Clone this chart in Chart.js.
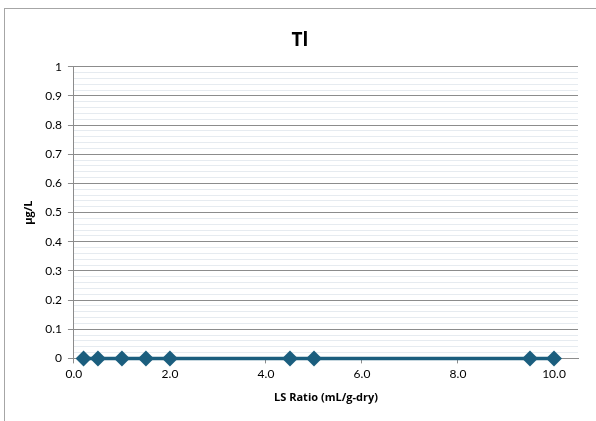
<!DOCTYPE html>
<html>
<head>
<meta charset="utf-8">
<script src="https://cdn.jsdelivr.net/npm/chart.js@4/dist/chart.umd.min.js"></script>
<style>
html,body{margin:0;padding:0;background:#fff;overflow:hidden;}
#wrap{position:absolute;left:0;top:0;width:596px;height:421px;}
#frame{position:absolute;left:4px;top:8px;width:620px;height:440px;border:1.5px solid #a6a6a6;box-sizing:border-box;pointer-events:none;}
</style>
</head>
<body>
<div id="wrap"><canvas id="c" width="596" height="421"></canvas></div>
<div id="frame"></div>
<script>
const chartTitle = "Tl";
const xAxisTitle = "LS Ratio (mL/g-dry)";
const yAxisTitle = "µg/L";
const lsRatio = [0.2, 0.5, 1.0, 1.5, 2.0, 4.5, 5.0, 9.5, 10.0];
const tlValues = [0, 0, 0, 0, 0, 0, 0, 0, 0];
const xTicks = [0, 2, 4, 6, 8, 10];

const FONT = "Lato, 'Open Sans', 'Liberation Sans', sans-serif";
const BOLD_FONT = "'Open Sans', 'Liberation Sans', sans-serif";
const points = lsRatio.map((x, i) => ({x: x, y: tlValues[i]}));

function isMajor(v){ return Math.abs(Math.round(v*10) - v*10) < 1e-6; }

new Chart(document.getElementById('c'), {
  type: 'scatter',
  data: {
    datasets: [{
      data: points,
      showLine: true,
      borderColor: '#1b5e7e',
      backgroundColor: '#1b5e7e',
      borderWidth: 3.5,
      pointStyle: 'rectRot',
      pointRadius: 8,
      pointHoverRadius: 8,
      pointBorderWidth: 0,
      clip: false
    }]
  },
  options: {
    responsive: false,
    animation: false,
    events: [],
    layout: {padding: {left: 22, right: 18, top: 16, bottom: 13}},
    plugins: {
      legend: {display: false},
      tooltip: {enabled: false},
      title: {
        display: true,
        text: chartTitle,
        color: '#000',
        font: {family: BOLD_FONT, size: 19, weight: 'bold'},
        padding: {top: 13, bottom: 15}
      }
    },
    scales: {
      x: {
        type: 'linear',
        min: 0,
        max: 10.5,
        afterBuildTicks: (axis) => { axis.ticks = xTicks.map(v => ({value: v})); },
        ticks: {
          color: '#000',
          font: {family: FONT, size: 12},
          padding: 4,
          callback: (v) => Number(v).toFixed(1)
        },
        grid: {
          display: true,
          drawOnChartArea: false,
          drawTicks: true,
          tickLength: 5,
          tickColor: '#8c8c8c'
        },
        border: {display: true, color: '#8c8c8c', width: 1},
        title: {
          display: true,
          text: xAxisTitle,
          color: '#000',
          font: {family: BOLD_FONT, size: 11, weight: 'bold'},
          padding: {top: 5}
        }
      },
      y: {
        type: 'linear',
        min: 0,
        max: 1,
        afterBuildTicks: (axis) => {
          const t = [];
          for (let i = 0; i <= 50; i++) t.push({value: i / 50});
          axis.ticks = t;
        },
        ticks: {
          color: '#000',
          font: {family: FONT, size: 12},
          padding: 6,
          autoSkip: false,
          callback: (v) => isMajor(v) ? String(Math.round(v*10)/10) : ''
        },
        grid: {
          drawTicks: true,
          tickLength: 6,
          color: (ctx) => {
            if (!ctx.tick) return '#8c8c8c';
            return isMajor(ctx.tick.value) ? '#8c8c8c' : '#e6ebf0';
          },
          tickColor: (ctx) => {
            if (!ctx.tick) return '#8c8c8c';
            return isMajor(ctx.tick.value) ? '#8c8c8c' : 'rgba(0,0,0,0)';
          },
          lineWidth: 1
        },
        border: {display: true, color: '#8c8c8c', width: 1},
        title: {
          display: true,
          text: yAxisTitle,
          color: '#000',
          font: {family: BOLD_FONT, size: 11, weight: 'bold'},
          padding: {top: 0, bottom: 4}
        }
      }
    }
  }
});
</script>
</body>
</html>
